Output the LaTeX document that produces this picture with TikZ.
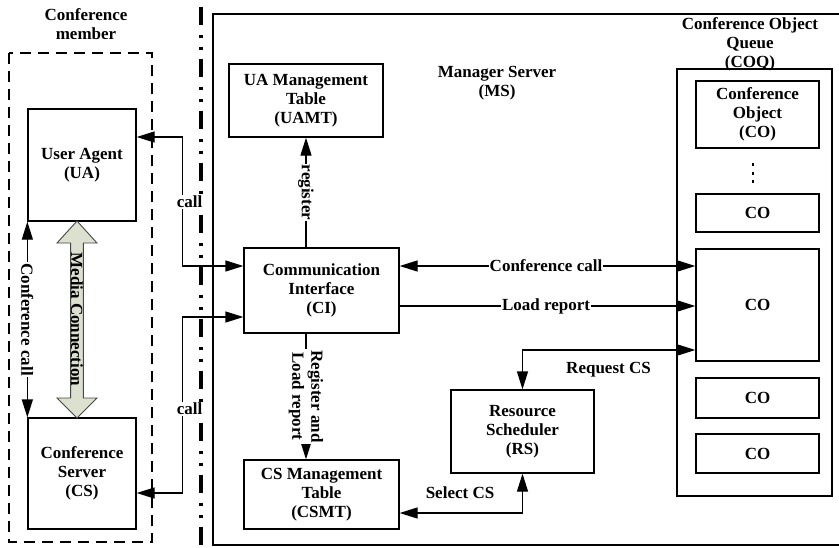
\documentclass[tikz,border=0pt]{standalone}
\usepackage{fontspec}
\setmainfont{Liberation Serif}
\usetikzlibrary{arrows.meta}
\newcommand{\dfont}{\fontsize{17}{19}\selectfont\bfseries}
\definecolor{mediafill}{RGB}{220,224,206}
\definecolor{mediaedge}{RGB}{70,70,70}

\begin{document}
\begin{tikzpicture}[x=1pt,y=-1pt,
  box/.style={draw, line width=1.3pt, align=center, inner sep=0pt, font=\dfont},
  txt/.style={align=center, inner sep=0pt, font=\dfont},
  lbl/.style={fill=white, inner sep=1pt, font=\dfont, align=center},
  conn/.style={line width=1.3pt},
  arr/.style={conn, -{Triangle[length=18pt,width=11pt]}},
  dbl/.style={conn, {Triangle[length=18pt,width=11pt]}-{Triangle[length=18pt,width=11pt]}},
]
\useasboundingbox (0,0) rectangle (839,547);
\clip (0,0) rectangle (839,547);

% ---------- conference member side ----------
\draw[line width=2.2pt, dash pattern=on 11pt off 7pt] (9,53) rectangle (152,542);
\node[txt] (memtitle) at (86,24) {Conference\\member};

\node[box, minimum width=108pt, minimum height=112pt] (UA) at (82,165) {User Agent\\(UA)};
\node[box, minimum width=108pt, minimum height=111pt] (CS) at (82,473.5) {Conference\\Server\\(CS)};

% conference call between UA and CS
\draw[dbl] (UA.south west) -- (CS.north west)
  node[lbl, midway, rotate=-90] {Conference call};

% media connection (wide double arrow)
\draw[line width=0.9pt, draw=mediaedge, fill=mediafill]
  (77,221) -- (97,243) -- (83.4,243) -- (83.4,398) -- (97,398) -- (77,418)
  -- (57,398) -- (70.6,398) -- (70.6,243) -- (57,243) -- cycle;
\node[txt, rotate=-90] (media) at (77,319.5) {Media Connection};

% ---------- separator ----------
\draw[line width=3.2pt, dash pattern=on 18pt off 10pt on 2.5pt off 9.5pt on 2.5pt off 9.5pt] (201,7) -- (201,547);

% ---------- manager server ----------
\draw[line width=1.3pt] (860,14) -- (213,14) -- (213,545) -- (860,545);
\node[txt] (mstitle) at (497,83) {Manager Server\\(MS)};

\node[box, minimum width=154pt, minimum height=73pt] (UAMT) at (306,100.5) {UA Management\\Table\\(UAMT)};
\node[box, minimum width=155pt, minimum height=85pt] (CI) at (321.5,290.5) {Communication\\Interface\\(CI)};
\node[box, minimum width=155pt, minimum height=69pt] (CSMT) at (321.5,494.5) {CS Management\\Table\\(CSMT)};
\node[box, minimum width=143pt, minimum height=83pt] (RS) at (522.5,431.5) {Resource\\Scheduler\\(RS)};

% conference object queue
\node[box, minimum width=155pt, minimum height=427pt] (COQ) at (754.5,282.5) {};
\node[txt] (coqtitle) at (750,44.5) {Conference Object\\Queue\\(COQ)};
\node[box, minimum width=123pt, minimum height=67pt] (CO1) at (757.5,114.5) {Conference\\Object\\(CO)};
\node[box, minimum width=123pt, minimum height=38pt] (CO2) at (757.5,213) {CO};
\node[box, minimum width=123pt, minimum height=112pt] (CO3) at (757.5,305) {CO};
\node[box, minimum width=123pt, minimum height=40pt] (CO4) at (757.5,398) {CO};
\node[box, minimum width=123pt, minimum height=39pt] (CO5) at (757.5,453.5) {CO};
\draw[line width=2.6pt, dash pattern=on 3pt off 5.5pt] (753,163) -- (753,184);

% ---------- connectors ----------
% calls from the member side into CI
\draw[dbl] ([yshift=28pt]UA.east) -- ++(46,0) |- ([yshift=24.5pt]CI.west);
\node[lbl] (callua) at (189.5,202) {call};
\draw[dbl] ([yshift=-19.5pt]CS.east) -- ++(46,0) |- ([yshift=-26.5pt]CI.west);
\node[lbl] (callcs) at (189.5,409) {call};

% CI to the management tables
\draw[arr] (UAMT.south |- CI.north) -- (UAMT.south)
  node[lbl, midway, rotate=-90] {register};
\draw[arr] (UAMT.south |- CI.south) -- (UAMT.south |- CSMT.north)
  node[lbl, midway, rotate=-90] {Register and\\Load report};

% CI to the conference object
\coordinate (ccall) at ([yshift=24.5pt]CI.east);
\coordinate (lrep) at ([yshift=-15.5pt]CI.east);
\draw[dbl] (ccall) -- (ccall -| CO3.west);
\node[lbl] (cclbl) at (546,266) {Conference call};
\draw[arr] (lrep) -- (lrep -| CO3.west);
\node[lbl] (lrlbl) at (546,306) {Load report};

% resource scheduler links
\draw[dbl] (RS.north) |- ([yshift=-45pt]CO3.west);
\node[txt] (reqlbl) at (608.5,370) {Request CS};
\draw[dbl] (RS.south) |- ([yshift=-18.5pt]CSMT.east);
\node[txt] (sellbl) at (460,493) {Select CS};

\end{tikzpicture}
\end{document}
